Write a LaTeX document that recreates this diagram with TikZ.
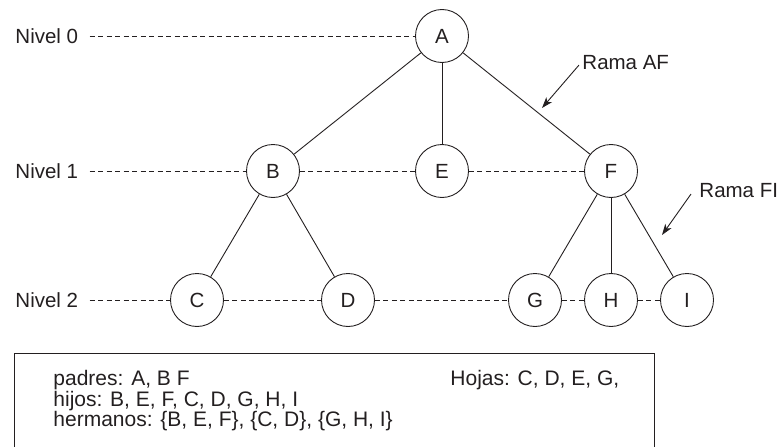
\documentclass[tikz,border=0pt]{standalone}
\usepackage{fontspec}
\setmainfont{Liberation Sans}
\usetikzlibrary{arrows.meta}
\definecolor{ink}{HTML}{231F20}

\begin{document}
\begin{tikzpicture}[
  x=1pt, y=-1pt, color=ink, line width=0.9pt,
  >={Stealth[length=11pt,width=7.5pt,inset=3pt]},
  vertex/.style={circle, draw, minimum size=53pt, inner sep=0pt, font=\fontsize{20.5}{24}\selectfont},
  levelname/.style={anchor=west, inner xsep=11pt, inner ysep=0pt, font=\fontsize{20.5}{24}\selectfont},
  txt/.style={anchor=base west, inner sep=0pt, font=\fontsize{20.5}{24}\selectfont},
  guide/.style={dash pattern=on 5pt off 3.5pt},
]
\useasboundingbox (0,0) rectangle (780,447);

% tree
\node[vertex] (A) at (442,36) {A};
\node[vertex] (B) at (273,171) {B};
\node[vertex] (E) at (442,171) {E};
\node[vertex] (F) at (611,171) {F};
\node[vertex] (C) at (197,300) {C};
\node[vertex] (D) at (348,300) {D};
\node[vertex] (G) at (535,300) {G};
\node[vertex] (H) at (611,300) {H};
\node[vertex] (I) at (687,300) {I};

\draw (A) -- (B);
\draw (A) -- (E);
\draw (A) -- (F);
\draw (B) -- (C);
\draw (B) -- (D);
\draw (F) -- (G);
\draw (F) -- (H);
\draw (F) -- (I);

% levels
\node[levelname] (n0) at (4,36) {Nivel 0};
\node[levelname] (n1) at (4,171) {Nivel 1};
\node[levelname] (n2) at (4,300) {Nivel 2};

\draw[guide] (n0) -- (A);
\draw[guide] (n1) -- (B) (B) -- (E) (E) -- (F);
\draw[guide] (n2) -- (C) (C) -- (D) (D) -- (G) (G) -- (H) (H) -- (I);

% branches
\node[txt] (ramaAF) at (582,69) {Rama AF};
\node[txt] (ramaFI) at (699,197) {Rama FI};
\coordinate (tipAF) at (542,108);
\coordinate (tipFI) at (662,235);
\draw[->] ([shift={(-3,3)}]ramaAF.west) -- (tipAF);
\draw[->] ([shift={(-8,4)}]ramaFI.west) -- (tipFI);

% legend
\draw (14,353) rectangle (654,480);
\node[txt, font=\fontsize{21}{24}\selectfont] (padres) at (53,385) {padres: A, B F};
\node[txt, font=\fontsize{21}{24}\selectfont] (hijos) at (53,406) {hijos: B, E, F, C, D, G, H, I};
\node[txt, font=\fontsize{21}{24}\selectfont] (hermanos) at (53,426) {hermanos: \{B, E, F\}, \{C, D\}, \{G, H, I\}};
\node[txt, font=\fontsize{21}{24}\selectfont] (hojas) at (450,385) {Hojas: C, D, E, G,};
\end{tikzpicture}
\end{document}
